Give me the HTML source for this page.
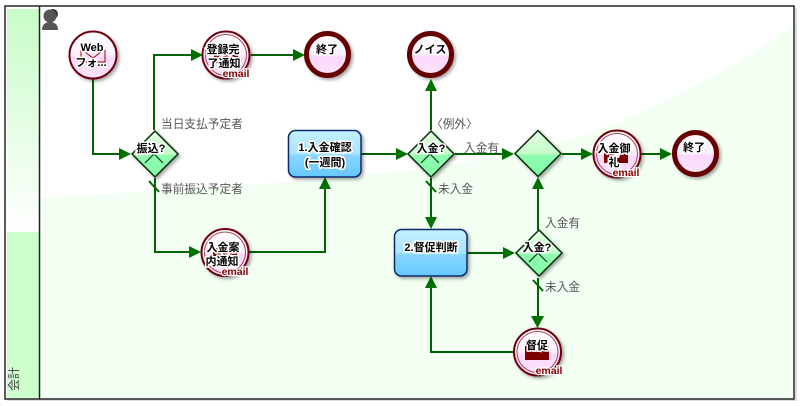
<!DOCTYPE html>
<html><head><meta charset="utf-8">
<style>
html,body{margin:0;padding:0;background:#fff;width:800px;height:406px;overflow:hidden}
svg{display:block}
text{font-family:"Liberation Sans","Noto Sans CJK JP",sans-serif}
.l{font-size:11.7px;fill:#555}
.n{font-size:11px;font-weight:bold;fill:#000;stroke:#fff;stroke-width:3px;paint-order:stroke;text-anchor:middle}
.e{font-size:10.500px;font-weight:bold;fill:#800000;stroke:#fff;stroke-width:2.5px;paint-order:stroke;text-anchor:middle}
.c{fill:none;stroke:#006400;stroke-width:2}
.a{fill:#007000}
</style></head><body>
<svg width="800" height="406" viewBox="0 0 800 406" xmlns="http://www.w3.org/2000/svg">
<defs>
<linearGradient id="lane" x1="0" y1="0" x2="0" y2="1"><stop offset="0" stop-color="#c8fcc8"/><stop offset="1" stop-color="#ffffff"/></linearGradient>
<linearGradient id="pink" x1="0" y1="0" x2="0" y2="1"><stop offset="0" stop-color="#fff"/><stop offset=".5" stop-color="#fdeefd"/><stop offset=".55" stop-color="#fbd8fb"/><stop offset="1" stop-color="#fde4fd"/></linearGradient>
<linearGradient id="dia" x1="0" y1="0" x2="0" y2="1"><stop offset="0" stop-color="#e4ffe4"/><stop offset=".5" stop-color="#c4fcc8"/><stop offset=".54" stop-color="#90fab0"/><stop offset="1" stop-color="#80fca8"/></linearGradient>
<linearGradient id="blue" x1="0" y1="0" x2="0" y2="1"><stop offset="0" stop-color="#c4f0ff"/><stop offset=".5" stop-color="#a8e4ff"/><stop offset=".54" stop-color="#88d6ff"/><stop offset="1" stop-color="#66c8ff"/></linearGradient>
<filter id="sh" x="-20%" y="-20%" width="150%" height="150%"><feDropShadow dx="2" dy="2" stdDeviation="1.5" flood-color="#000" flood-opacity=".35"/></filter>
<g id="msg"><path d="M-12 -6H12V6H-12Z" fill="#7a0000"/><path d="M-12 -6L0 2L12 -6" fill="none" stroke="#fff" stroke-width="1.2"/></g>
<g id="ee"><circle r="23.5" fill="url(#pink)" stroke="#6e0610" stroke-width="2"/><circle r="20.5" fill="none" stroke="#a04a58" stroke-width="1"/></g>
<g id="end"><circle r="21" fill="url(#pink)" stroke="#660000" stroke-width="5"/></g>
<g id="dm"><path d="M0 -23L23 0L0 23L-23 0Z" fill="url(#dia)" stroke="#0a2a0a" stroke-width="1.5"/></g>
<g id="chev"><path d="M-10 9L-1 0L8 9" fill="none" stroke="#0a3a1a" stroke-width="1.2"/></g>
</defs>

<rect x="0" y="0" width="800" height="406" fill="#fff"/>
<rect x="7" y="8" width="790" height="393" fill="#bbb" opacity=".5"/>
<rect x="5" y="6" width="790" height="393" fill="#fff"/>
<rect x="7" y="9" width="32" height="223" fill="url(#lane)"/>
<rect x="7" y="232" width="32" height="166" fill="#ccffcc"/>
<path d="M40 198C220 186 420 180 560 143C650 115 730 70 794 25V398H40Z" fill="#f2fff2"/>
<rect x="5" y="6" width="789" height="393" fill="none" stroke="#333" stroke-width="1.6"/>
<line x1="39.500" y1="6" x2="39.500" y2="399" stroke="#222" stroke-width="1.5"/>
<text class="l" transform="translate(18,391) rotate(-90)" style="font-size:12px;fill:#444">会計</text>

<!-- person icon -->
<g fill="#555"><circle cx="53" cy="14" r="5" fill="#333"/><circle cx="50" cy="16" r="6.500"/><path d="M42 30C42 24 46 22 50 22C54 22 58 24 58 30Z"/></g>

<!-- connectors -->
<path class="c" d="M93 79V154H122"/><path class="a" d="M119 148L131 154L119 160Z"/>
<path class="c" d="M154 130V55H194"/><path class="a" d="M191 49L203 55L191 61Z"/>
<path class="c" d="M155 178V252H193"/><path class="a" d="M189 246L201 252L189 258Z"/>
<path class="c" d="M251 55H295"/><path class="a" d="M293 49L305 55L293 61Z"/>
<path class="c" d="M249 252H325V188"/><path class="a" d="M319 189L325 177L331 189Z"/>
<path class="c" d="M361 154H399"/><path class="a" d="M396 148L408 154L396 160Z"/>
<path class="c" d="M431 130V90"/><path class="a" d="M425 91L431 79L437 91Z"/>
<path class="c" d="M455 154H506"/><path class="a" d="M502 148L514 154L502 160Z"/>
<path class="c" d="M431 178V219"/><path class="a" d="M425 217L431 229L437 217Z"/>
<path class="c" d="M467 253H506"/><path class="a" d="M503 247L515 253L503 259Z"/>
<path class="c" d="M538 230V188"/><path class="a" d="M532 189L538 177L544 189Z"/>
<path class="c" d="M538 278V318"/><path class="a" d="M531 316L537.500 328L544 316Z"/>
<path class="c" d="M513 352H431V287"/><path class="a" d="M425 288L431 276L437 288Z"/>
<path class="c" d="M562 154H584"/><path class="a" d="M581 148L593 154L581 160Z"/>
<path class="c" d="M641 154H663"/><path class="a" d="M660 148L672 154L660 160Z"/>
<!-- default slashes -->
<g stroke="#006400" stroke-width="2"><line x1="149" y1="181" x2="159" y2="192"/><line x1="426" y1="181" x2="436" y2="192"/><line x1="533" y1="280" x2="543" y2="291"/></g>

<!-- nodes -->
<g filter="url(#sh)"><circle cx="93" cy="55" r="23.500" fill="url(#pink)" stroke="#6e0610" stroke-width="2"/></g>
<path d="M81 50V62H105V50" fill="none" stroke="#900" stroke-width="1"/><path d="M85 52L93 58L101 52" fill="none" stroke="#900" stroke-width="1"/>
<text class="n" x="92" y="51">Web</text><text class="n" x="91" y="66">フォ...</text>

<g filter="url(#sh)"><use href="#ee" x="226" y="55"/></g>
<use href="#msg" x="226" y="57"/>
<text class="n" x="223" y="53">登録完</text><text class="n" x="224" y="67">了通知</text><text class="e" x="236" y="77">email</text>

<g filter="url(#sh)"><use href="#end" x="327.500" y="54.500"/></g><text class="n" x="327" y="53">終了</text>
<g filter="url(#sh)"><use href="#end" x="430.500" y="54.500"/></g><text class="n" x="430" y="53">ノイス</text>
<g filter="url(#sh)"><use href="#end" x="695.500" y="153.500"/></g><text class="n" x="694" y="151">終了</text>

<g filter="url(#sh)"><use href="#ee" x="225" y="252.500"/></g>
<use href="#msg" x="225" y="254"/>
<text class="n" x="223" y="251">入金案</text><text class="n" x="222" y="265">内通知</text><text class="e" x="235" y="275">email</text>

<g filter="url(#sh)"><use href="#ee" x="617" y="154"/></g>
<path d="M604 153H613L615 158L619 158L621 153H628V163H604Z" fill="#7a0000"/>
<text class="n" x="614" y="152">入金御</text><text class="n" x="614" y="166">礼</text><text class="e" x="626" y="176">email</text>

<g filter="url(#sh)"><use href="#ee" x="537.500" y="352"/></g>
<path d="M525 346H532L537 352L542 346H549V360H525Z" fill="#7a0000"/>
<text class="n" x="537" y="349">督促</text><text class="e" x="549" y="374">email</text>

<g filter="url(#sh)"><use href="#dm" x="155" y="154"/></g><use href="#chev" x="155" y="154"/><text class="n" x="151" y="152">振込?</text>
<g filter="url(#sh)"><use href="#dm" x="431" y="154"/></g><use href="#chev" x="431" y="154"/><text class="n" x="431" y="152">入金?</text>
<g filter="url(#sh)"><use href="#dm" x="538" y="153.500"/></g>
<g filter="url(#sh)"><use href="#dm" x="539" y="253"/></g><use href="#chev" x="539" y="253"/><text class="n" x="537" y="251">入金?</text>

<g filter="url(#sh)"><rect x="288.500" y="130.500" width="72.500" height="46.500" rx="7" fill="url(#blue)" stroke="#0a2a6a" stroke-width="1.500"/></g>
<text class="n" x="325" y="151">1.入金確認</text><text class="n" x="325" y="166">(一週間)</text>
<g filter="url(#sh)"><rect x="394.500" y="229.500" width="72.500" height="46.500" rx="7" fill="url(#blue)" stroke="#0a2a6a" stroke-width="1.500"/></g>
<text class="n" x="431" y="251">2.督促判断</text>

<!-- labels -->
<text class="l" x="161" y="128">当日支払予定者</text>
<text class="l" x="161" y="193">事前振込予定者</text>
<text class="l" x="431" y="128">〈例外〉</text>
<text class="l" x="464" y="152">入金有</text>
<text class="l" x="438" y="193">未入金</text>
<text class="l" x="545" y="227">入金有</text>
<text class="l" x="545" y="291">未入金</text>
</svg>
</body></html>
